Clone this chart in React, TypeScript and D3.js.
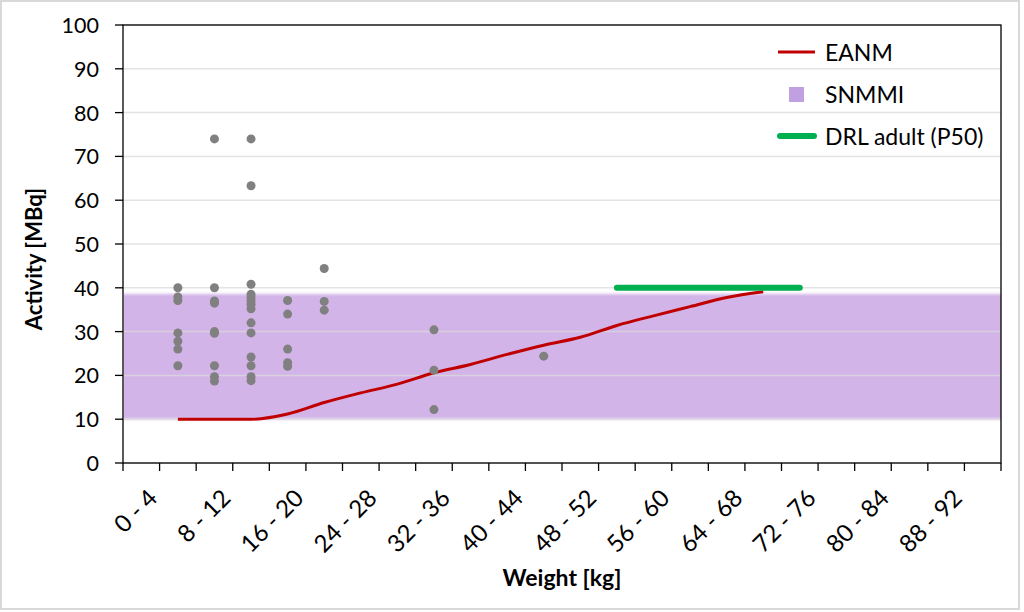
import React from "react";
import * as d3 from "d3";

const categories: string[] = [
  "0 - 4", "4 - 8", "8 - 12", "12 - 16", "16 - 20", "20 - 24", "24 - 28", "28 - 32",
  "32 - 36", "36 - 40", "40 - 44", "44 - 48", "48 - 52", "52 - 56", "56 - 60", "60 - 64",
  "64 - 68", "68 - 72", "72 - 76", "76 - 80", "80 - 84", "84 - 88", "88 - 92", "92 - 96",
];

const yTicks: number[] = [0, 10, 20, 30, 40, 50, 60, 70, 80, 90, 100];

// Patient measurements (weight bin, administered activity)
const patientBins: string[] = [
  "4 - 8", "4 - 8", "4 - 8", "4 - 8", "4 - 8", "4 - 8", "4 - 8",
  "8 - 12", "8 - 12", "8 - 12", "8 - 12", "8 - 12", "8 - 12", "8 - 12", "8 - 12", "8 - 12",
  "12 - 16", "12 - 16", "12 - 16", "12 - 16", "12 - 16", "12 - 16", "12 - 16", "12 - 16",
  "12 - 16", "12 - 16", "12 - 16", "12 - 16", "12 - 16", "12 - 16",
  "16 - 20", "16 - 20", "16 - 20", "16 - 20", "16 - 20",
  "20 - 24", "20 - 24", "20 - 24",
  "32 - 36", "32 - 36", "32 - 36",
  "44 - 48",
];
const patientActivity: number[] = [
  40.0, 37.9, 37.1, 29.7, 27.8, 26.0, 22.2,
  74.0, 40.0, 37.0, 36.5, 30.0, 29.6, 22.2, 19.7, 18.7,
  74.0, 63.3, 40.8, 38.5, 37.8, 37.0, 36.2, 35.2, 32.0, 29.7, 24.2, 22.2, 19.7, 18.8,
  37.1, 34.0, 26.0, 22.9, 22.1,
  44.4, 36.9, 34.9,
  30.4, 21.2, 12.2,
  24.4,
];

const eanmBins: string[] = [
  "4 - 8", "8 - 12", "12 - 16", "16 - 20", "20 - 24", "24 - 28", "28 - 32", "32 - 36",
  "36 - 40", "40 - 44", "44 - 48", "48 - 52", "52 - 56", "56 - 60", "60 - 64", "64 - 68", "68 - 72",
];
const eanmValues: number[] = [
  10.0, 10.0, 10.0, 11.2, 13.8, 16.0, 18.0, 20.6, 22.5, 24.8, 26.9, 28.7, 31.4, 33.6, 35.7, 37.8, 39.1,
];

const drlBins: string[] = ["52 - 56", "56 - 60", "60 - 64", "64 - 68", "68 - 72", "72 - 76"];
const drlValues: number[] = [40, 40, 40, 40, 40, 40];

const snmmiLow = 10;
const snmmiHigh = 38.6;

const legendLabels: string[] = ["EANM", "SNMMI", "DRL adult (P50)"];

const W = 1024;
const H = 612;
const M = { left: 123, right: 1001, top: 25, bottom: 463 };
const FONT = "Lato, 'Open Sans', sans-serif";

export default function App() {
  const x = d3.scaleBand<string>().domain(categories).range([M.left, M.right]).padding(0);
  const y = d3.scaleLinear().domain([0, 100]).range([M.bottom, M.top]);
  const cx = (c: string) => (x(c) as number) + x.bandwidth() / 2;

  const eanmLine = d3
    .line<number>()
    .x((_, i) => cx(eanmBins[i]))
    .y((d) => y(d))
    .curve(d3.curveMonotoneX)(eanmValues) as string;

  const drlLine = d3
    .line<number>()
    .x((_, i) => cx(drlBins[i]))
    .y((d) => y(d))(drlValues) as string;

  const tickEdges = d3.range(categories.length + 1).map((i) => M.left + i * x.bandwidth());

  return (
    <svg
      width={W}
      height={H}
      style={{ position: "absolute", left: 0, top: 0, background: "#fff" }}
      fontFamily={FONT}
    >
      <defs>
        <clipPath id="plotClip">
          <rect x={M.left + 1} y={M.top} width={M.right - M.left - 1} height={M.bottom - M.top} />
        </clipPath>
        <filter id="soft" x="-5%" y="-20%" width="110%" height="140%">
          <feGaussianBlur stdDeviation="1.6" />
        </filter>
      </defs>
      <rect x={1} y={1} width={1018} height={608} fill="#fff" stroke="#d9d9d9" strokeWidth={2} />

      {/* SNMMI band */}
      <g clipPath="url(#plotClip)">
        <rect
          x={M.left - 10}
          y={y(snmmiHigh)}
          width={M.right - M.left + 20}
          height={y(snmmiLow) - y(snmmiHigh)}
          fill="#d2b4e8"
          filter="url(#soft)"
        />
      </g>

      {/* gridlines */}
      {yTicks.map((t) => (
        <line
          key={"g" + t}
          x1={M.left}
          x2={M.right}
          y1={y(t)}
          y2={y(t)}
          stroke="#d9d9d9"
          strokeOpacity={0.75}
          strokeWidth={1.5}
        />
      ))}

      {/* plot border */}
      <rect
        x={M.left}
        y={M.top}
        width={M.right - M.left}
        height={M.bottom - M.top}
        fill="none"
        stroke="#000"
        strokeWidth={1.3}
      />

      {/* y axis ticks and labels */}
      {yTicks.map((t) => (
        <g key={"y" + t}>
          <line x1={M.left - 8} x2={M.left} y1={y(t)} y2={y(t)} stroke="#000" strokeWidth={1.3} />
          <text
            x={99}
            y={y(t)}
            textAnchor="end"
            dominantBaseline="central"
            fontSize={21.5}
            fill="#000"
          >
            {t}
          </text>
        </g>
      ))}

      {/* x axis ticks */}
      {tickEdges.map((t, i) => (
        <line key={"xt" + i} x1={t} x2={t} y1={M.bottom} y2={M.bottom + 8} stroke="#000" strokeWidth={1.3} />
      ))}
      {categories.map((c, i) =>
        i % 2 === 0 ? (
          <text
            key={"xl" + c}
            transform={`translate(${cx(c) + 4},${486}) rotate(-45)`}
            textAnchor="end"
            dominantBaseline="hanging"
            fontSize={24}
            fill="#000"
          >
            {c}
          </text>
        ) : null
      )}

      {/* EANM line */}
      <path d={eanmLine} fill="none" stroke="#c00000" strokeWidth={3} />

      {/* patient points */}
      {patientActivity.map((v, i) => (
        <circle key={"p" + i} cx={cx(patientBins[i])} cy={y(v)} r={4.5} fill="#808080" />
      ))}

      {/* DRL adult */}
      <path d={drlLine} fill="none" stroke="#00b050" strokeWidth={6} strokeLinecap="round" />

      {/* axis titles */}
      <text x={562} y={586} textAnchor="middle" fontSize={23} fontWeight="bold" fill="#000">
        Weight [kg]
      </text>
      <text
        transform={`translate(42,259) rotate(-90)`}
        textAnchor="middle"
        fontSize={22}
        fontWeight="bold"
        fill="#000"
      >
        Activity [MBq]
      </text>

      {/* legend */}
      <g fontSize={23} fill="#000">
        <line x1={778} x2={815} y1={52} y2={52} stroke="#c00000" strokeWidth={3} />
        <text x={825} y={52} dominantBaseline="central">
          {legendLabels[0]}
        </text>
        <rect x={789} y={87} width={15} height={15} fill="#c0a0e0" />
        <text x={825} y={94} dominantBaseline="central">
          {legendLabels[1]}
        </text>
        <line x1={780} x2={814} y1={136} y2={136} stroke="#00b050" strokeWidth={6} strokeLinecap="round" />
        <text x={825} y={136} dominantBaseline="central">
          {legendLabels[2]}
        </text>
      </g>
    </svg>
  );
}
